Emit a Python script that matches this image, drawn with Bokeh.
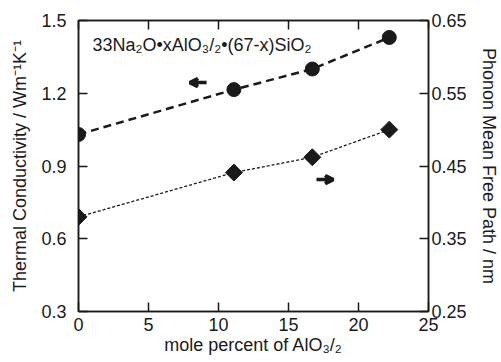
from bokeh.plotting import figure
from bokeh.models import (Range1d, LinearAxis, FixedTicker, NumeralTickFormatter,
                          ColumnDataSource, Label, Arrow, VeeHead)
from bokeh.embed import file_html
from bokeh.resources import INLINE
import math

# data
al_pct = [0, 11.1, 16.7, 22.2]
conductivity = [1.03, 1.215, 1.30, 1.43]
mean_free_path = [0.380, 0.441, 0.462, 0.500]

x_ticks = [0, 5, 10, 15, 20, 25]
left_ticks = [0.3, 0.6, 0.9, 1.2, 1.5]
right_ticks = [0.25, 0.35, 0.45, 0.55, 0.65]

FONT = "Liberation Sans"
INK = "#1a1a1a"

p = figure(width=501, height=362, output_backend="svg", toolbar_location=None,
           x_range=Range1d(0, 25), y_range=Range1d(0.3, 1.5),
           min_border_left=78, min_border_right=73, min_border_top=20, min_border_bottom=51)
p.extra_y_ranges = {"mfp": Range1d(0.25, 0.65)}
p.xgrid.visible = False
p.ygrid.visible = False
p.outline_line_color = INK
p.outline_line_width = 1.5
p.background_fill_color = "white"
p.border_fill_color = "white"


def style(ax, ticks, fmt=None):
    ax.ticker = FixedTicker(ticks=ticks)
    if fmt:
        ax.formatter = NumeralTickFormatter(format=fmt)
    ax.major_tick_in = 9
    ax.major_tick_out = 0
    ax.minor_tick_in = 0
    ax.minor_tick_out = 0
    ax.axis_line_color = INK
    ax.axis_line_width = 1.5
    ax.major_tick_line_color = INK
    ax.major_tick_line_width = 1.5
    ax.major_label_text_font = FONT
    ax.major_label_text_font_size = "18px"
    ax.major_label_text_color = INK
    ax.axis_label_text_font = FONT
    ax.axis_label_text_font_size = "18px"
    ax.axis_label_text_font_style = "normal"
    ax.axis_label_text_color = INK


xa = p.xaxis[0]
style(xa, x_ticks)
xa.major_label_standoff = 6
xa.axis_label = "mole percent of AlO₃/₂"
xa.axis_label_standoff = 1

ya = p.yaxis[0]
style(ya, left_ticks, "0.0")
ya.major_label_standoff = 12
ya.axis_label = "Thermal Conductivity / Wm⁻¹K⁻¹"
ya.axis_label_standoff = 8

ra = LinearAxis(y_range_name="mfp")
style(ra, right_ticks, "0.00")
ra.major_label_standoff = 3
ra.axis_label = "Phonon Mean Free Path / nm"
ra.axis_label_standoff = 9
p.add_layout(ra, "right")

ta = LinearAxis()
style(ta, x_ticks)
ta.major_label_overrides = {t: "" for t in x_ticks}
ta.major_label_standoff = 0
p.add_layout(ta, "above")

src = ColumnDataSource(dict(x=al_pct, k=conductivity, m=mean_free_path))

p.line("x", "k", source=src, line_color=INK, line_width=2.5, line_dash="8 5")
p.scatter("x", "k", source=src, marker="circle", size=14, fill_color=INK, line_color=INK)

p.line("x", "m", source=src, y_range_name="mfp", line_color=INK, line_width=1.3, line_dash="3 2")
p.scatter("x", "m", source=src, y_range_name="mfp", marker="square", size=12,
          angle=math.pi / 4, fill_color=INK, line_color=INK)

p.add_layout(Arrow(x_start=9.15, y_start=1.244, x_end=7.95, y_end=1.244,
                   line_color=INK, line_width=3.5,
                   end=VeeHead(size=8, line_color=INK, line_width=3.5, fill_color=INK)))
p.add_layout(Arrow(x_start=17.0, y_start=0.844, x_end=18.2, y_end=0.844,
                   line_color=INK, line_width=3.5,
                   end=VeeHead(size=8, line_color=INK, line_width=3.5, fill_color=INK)))

p.add_layout(Label(x=1.0, y=1.398, text="33Na₂O•xAlO₃/₂•(67-x)SiO₂",
                   text_font=FONT, text_font_size="18px", text_color=INK,
                   text_baseline="middle"))

open("out.html", "w").write(file_html(p, INLINE))
